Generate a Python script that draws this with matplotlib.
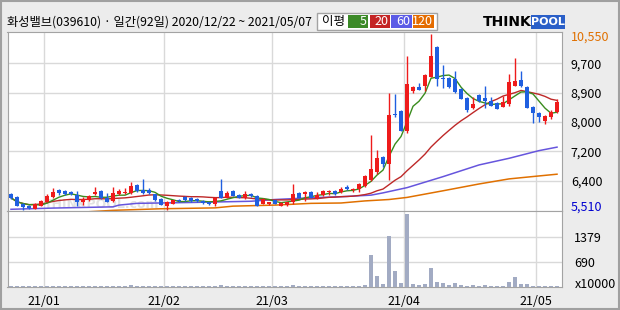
import numpy as np
import pandas as pd
import matplotlib
matplotlib.use("Agg")
import matplotlib.pyplot as plt
from matplotlib.patches import Rectangle
from matplotlib import transforms

plt.rcParams["font.family"] = ["Noto Sans CJK KR", "DejaVu Sans"]

# trading days 2020/12/22 ~ 2021/05/07 (KRX holidays removed)
holidays = ["2020-12-25", "2020-12-31", "2021-01-01", "2021-02-11",
            "2021-02-12", "2021-03-01", "2021-05-05"]
days = pd.bdate_range("2020-12-22", "2021-05-07")
days = days[~days.isin(pd.to_datetime(holidays))]

opens = [
    5970, 5890, 5690, 5630, 5550, 5620, 5750, 5870, 6080, 6050,
    6030, 5930, 5730, 5800, 5960, 6050, 5850, 5770, 5960, 5990,
    5990, 6220, 6080, 6090, 5960, 5830, 5620, 5690, 5800, 5890,
    5860, 5830, 5780, 5730, 5690, 6050, 5860, 6050, 5930, 5850,
    5980, 5910, 5690, 5670, 5790, 5630, 5650, 5730, 6000, 5970,
    6030, 5860, 5940, 6030, 6050, 6030, 6180, 6080, 6110, 6210,
    6370, 6590, 7040, 6830, 8260, 8350, 7780, 8920, 9040, 9050,
    9330, 10180, 9290, 9300, 9270, 8970, 8710, 8430, 8800, 8720,
    8640, 8570, 8470, 8550, 9070, 9240, 9040, 8460, 8300, 8060,
    8160, 8310]
highs = [
    6010, 5910, 5710, 5650, 5700, 5800, 5970, 6150, 6100, 6080,
    6050, 6050, 5890, 5940, 6180, 6070, 6010, 6180, 6110, 6150,
    6320, 6240, 6400, 6150, 5980, 5850, 5780, 5810, 5830, 5910,
    5880, 5850, 5800, 5750, 5880, 6400, 6050, 6070, 5970, 6050,
    6000, 5940, 5850, 5750, 5810, 5740, 5750, 6250, 6030, 6050,
    6050, 6030, 6080, 6080, 6080, 6170, 6230, 6140, 6280, 6510,
    7660, 7230, 7060, 8870, 8840, 8380, 9930, 9070, 9160, 9410,
    10550, 10210, 9670, 9320, 9500, 8990, 8740, 8760, 8820, 9070,
    8740, 8590, 8780, 9410, 9870, 9500, 9070, 8490, 8330, 8230,
    8380, 8690]
lows = [
    5830, 5610, 5510, 5540, 5540, 5610, 5740, 5850, 5940, 5950,
    5940, 5630, 5660, 5780, 5950, 5830, 5740, 5740, 5940, 5970,
    5970, 6030, 5980, 5980, 5780, 5640, 5510, 5670, 5740, 5770,
    5750, 5750, 5680, 5650, 5630, 5840, 5840, 5900, 5840, 5830,
    5880, 5610, 5670, 5640, 5670, 5610, 5620, 5670, 5840, 5770,
    5840, 5830, 5910, 5940, 5950, 6000, 6080, 6030, 6030, 6180,
    6340, 6540, 6730, 6370, 8170, 7760, 7710, 8860, 8940, 8920,
    9310, 9050, 9000, 8990, 8860, 8680, 8330, 8410, 8590, 8430,
    8480, 8390, 8450, 8490, 9050, 9020, 8420, 8010, 8040, 7980,
    8130, 8290]
closes = [
    5860, 5630, 5600, 5560, 5680, 5770, 5920, 6020, 5990, 5970,
    5960, 5750, 5820, 5920, 6030, 5850, 5750, 5990, 6050, 6030,
    6210, 6050, 6010, 6010, 5800, 5660, 5750, 5790, 5760, 5800,
    5770, 5770, 5700, 5670, 5860, 5860, 6000, 5920, 5860, 5970,
    5900, 5630, 5830, 5730, 5690, 5720, 5730, 5960, 5860, 6030,
    5860, 5940, 6050, 6050, 5980, 6110, 6110, 6110, 6260, 6480,
    6690, 7010, 6820, 8230, 8230, 7780, 9120, 9040, 8950, 9380,
    9930, 9270, 9270, 9020, 8880, 8700, 8360, 8550, 8620, 8640,
    8500, 8410, 8590, 9180, 9210, 9050, 8440, 8280, 8160, 8200,
    8320, 8590]
# volume, x10000 shares
volumes = [
    30, 35, 30, 30, 35, 30, 30, 35, 30, 30,
    30, 30, 35, 30, 30, 30, 30, 35, 30, 30,
    65, 30, 30, 35, 30, 30, 30, 30, 30, 30,
    30, 30, 30, 30, 30, 65, 30, 30, 30, 30,
    30, 30, 30, 30, 30, 30, 30, 65, 30, 30,
    30, 30, 30, 30, 30, 30, 30, 30, 40, 55,
    880, 300, 80, 1400, 440, 120, 2010, 80, 55, 80,
    520, 140, 110, 55, 110, 55, 30, 55, 30, 55,
    30, 30, 30, 140, 280, 80, 80, 30, 30, 30,
    30, 30]

# long averages (they need history before 12/22)
ma60_idx = [0, 7, 17, 18, 21, 30, 40, 44, 50, 55, 60, 62, 66, 72, 78, 83, 88, 91]
ma60_val = [5530, 5565, 5600, 5650, 5700, 5725, 5760, 5810, 5860, 5890,
            5935, 6000, 6150, 6465, 6800, 6990, 7210, 7310]
ma120_idx = [0, 12, 17, 25, 34, 37, 44, 50, 55, 59, 63, 66, 72, 78, 83, 88, 91]
ma120_val = [5400, 5450, 5500, 5545, 5570, 5620, 5650, 5700, 5710, 5770,
             5810, 5870, 6060, 6255, 6400, 6485, 6535]

price_ticks = [6350, 7190, 8030, 8870, 9710]
price_labels = ["6,400", "7,200", "8,000", "8,900", "9,700"]
vol_ticks = [690, 1379]
vol_labels = ["690", "1379"]

RED = "#EE1B1B"
BLUE = "#1F5FE0"
GRID = "#D9D9D9"
EDGE = "#A3A3A3"
W, H = 620, 310


def fx(px):
    return px / W


def fy(py):
    return 1 - py / H


fig = plt.figure(figsize=(6.2, 3.1), dpi=100, facecolor="#ECECEC")

x = np.arange(len(closes))
o = np.array(opens, float)
c = np.array(closes, float)
hi = np.array(highs, float)
lo = np.array(lows, float)
s = pd.Series(c)
ma5 = s.rolling(5, min_periods=1).mean()
ma20 = s.rolling(20, min_periods=1).mean()

months = pd.Series(days.month)
month_pos = [i - 0.5 for i in range(1, len(days)) if months[i] != months[i - 1]]
month_labels = [days[int(p + 0.5)].strftime("%y/%m") for p in month_pos]

xlim = (-0.58, 91.83)

# price panel
ax = fig.add_axes([fx(7.5), fy(211), fx(562 - 7.5), (211 - 31.7) / H])
ax.set_facecolor("white")
ax.set_xlim(*xlim)
ax.set_ylim(5481, 10616)
ax.set_xticks(month_pos)
ax.set_xticklabels([])
ax.set_yticks(price_ticks)
ax.set_yticklabels(price_labels)
ax.yaxis.tick_right()
ax.tick_params(length=0, labelsize=9, pad=6.3)
ax.grid(True, color=GRID, lw=1, zorder=0)
for sp in ax.spines.values():
    sp.set_color(EDGE)

ax.text(5.4, 5660, "THINKPOOL.com", fontsize=9, fontweight="bold",
        color="#E2E2E2", family="DejaVu Sans", va="center", zorder=1)

ax.plot(ma120_idx, ma120_val, color="#E07000", lw=1.1, zorder=2)
ax.plot(ma60_idx, ma60_val, color="#6655DD", lw=1.1, zorder=2)
ax.plot(x, ma20, color="#BE2828", lw=1, zorder=2)
ax.plot(x, ma5, color="#3A8C1E", lw=1, zorder=2)

colors = np.where(c >= o, RED, BLUE)
ax.vlines(x, lo, hi, colors=colors, lw=1, zorder=3)
body_h = np.maximum(np.abs(c - o), 28)
ax.bar(x, body_h, bottom=np.minimum(o, c), width=0.75, color=colors, lw=0, zorder=4)

side = transforms.blended_transform_factory(ax.transAxes, ax.transData)
ax.text(1, max(highs), f"{max(highs):,}", color="#E07000", fontsize=9, va="center",
        transform=transforms.offset_copy(side, fig=fig, x=6.3, y=-2.4, units="points"))
ax.text(1, min(lows), f"{min(lows):,}", color="#0000D0", fontsize=9, va="center",
        transform=transforms.offset_copy(side, fig=fig, x=6.3, y=2.4, units="points"))

# volume panel
av = fig.add_axes([fx(7.5), fy(287), fx(562 - 7.5), (287 - 211) / H])
av.set_facecolor("white")
av.set_xlim(*xlim)
av.set_ylim(0, 2085)
av.bar(x, volumes, width=0.8, color="#A2ABC3", lw=0, zorder=3)
av.set_xticks(month_pos)
av.set_xticklabels(month_labels)
av.set_yticks(vol_ticks)
av.set_yticklabels(vol_labels)
av.yaxis.tick_right()
av.tick_params(axis="y", length=0, labelsize=9, pad=8.6)
av.tick_params(axis="x", length=0, labelsize=9, pad=6.0)
av.grid(True, color=GRID, lw=1, zorder=0)
for sp in av.spines.values():
    sp.set_color(EDGE)
fig.text(fx(575), fy(285), "x10000", fontsize=9, va="center")

# header
fig.text(fx(7), fy(22.5), "화성밸브(039610) · 일간(92일) 2020/12/22 ~ 2021/05/07",
         fontsize=8.8, va="center")
fig.patches.append(Rectangle((fx(317), fy(30)), fx(120), 17.3 / H,
                             transform=fig.transFigure, facecolor="white",
                             edgecolor=EDGE, lw=1))
fig.text(fx(322), fy(21.5), "이평", fontsize=9, va="center")
legend = [("5", "#3C8A28", 348, 368), ("20", "#C42424", 370, 390),
          ("60", "#5B5BE6", 391, 412), ("120", "#E46C00", 413, 434)]
for lab, col, x0, x1 in legend:
    fig.patches.append(Rectangle((fx(x0), fy(28.3)), fx(x1 - x0), 13.3 / H,
                                 transform=fig.transFigure, facecolor=col, lw=0))
    fig.text(fx(x1 - 1.5), fy(21.8), lab, fontsize=9, color="white",
             ha="right", va="center")

fig.text(fx(483), fy(22), "THINK", fontsize=10, fontweight="bold",
         family="DejaVu Sans", va="center")
fig.patches.append(Rectangle((fx(531), fy(29)), fx(34), 14 / H,
                             transform=fig.transFigure, facecolor="#2A5FC8", lw=0))
fig.text(fx(548), fy(22), "POOL", fontsize=8, fontweight="bold", color="white",
         family="DejaVu Sans", ha="center", va="center")

fig.patches.append(Rectangle((0.001, 0.002), 0.997, 0.995, transform=fig.transFigure,
                             facecolor="none", edgecolor="#A0A0A0", lw=1.5))

fig.savefig("out.png", dpi=100, facecolor=fig.get_facecolor())
